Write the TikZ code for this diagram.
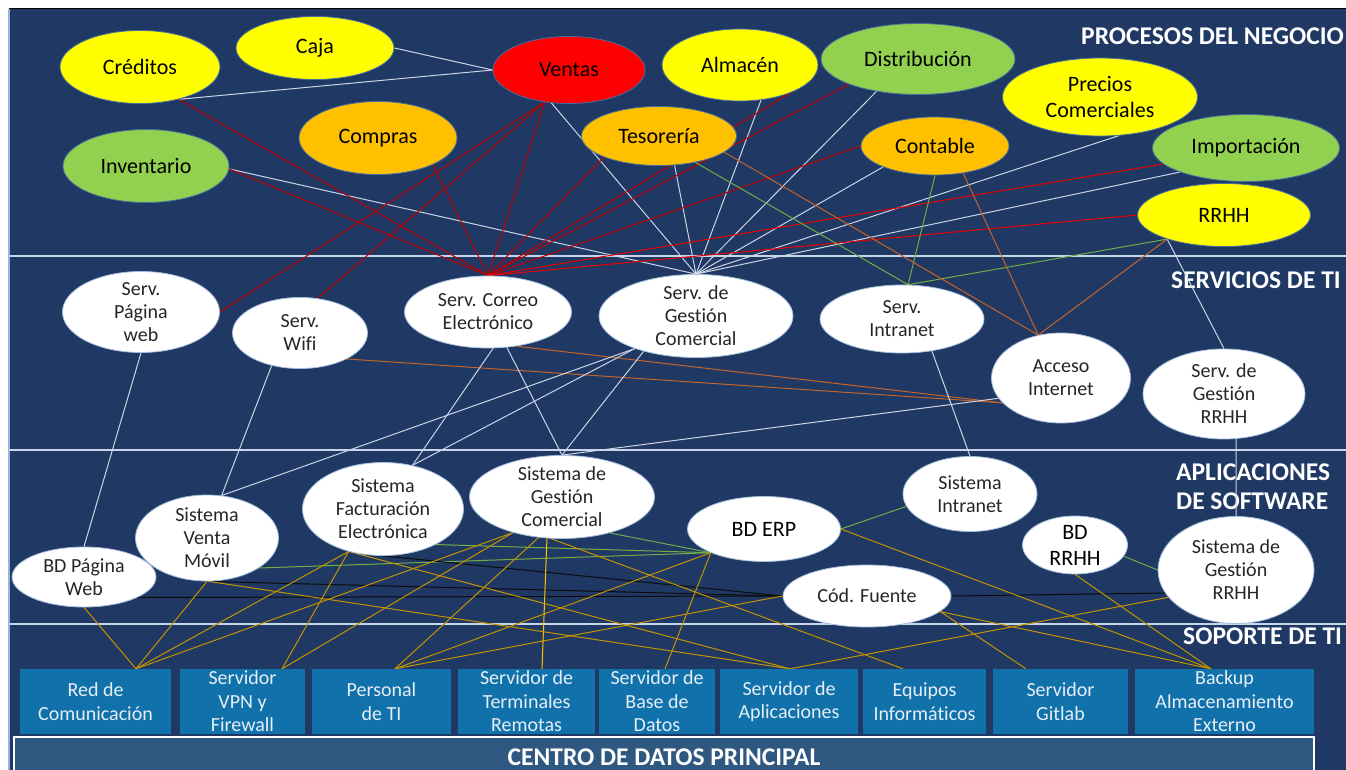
\documentclass[tikz,border=0pt]{standalone}
\usepackage{fontspec}
\setmainfont{Carlito}[Ligatures=NoCommon]
\usetikzlibrary{shapes.geometric}
\pgfdeclarelayer{back}
\pgfdeclarelayer{edges}
\pgfsetlayers{back,edges,main}

\definecolor{navy}{RGB}{32,56,100}
\definecolor{panelline}{RGB}{150,180,220}
\definecolor{sepline}{RGB}{200,214,236}
\definecolor{pyellow}{RGB}{255,255,0}
\definecolor{pred}{RGB}{255,0,0}
\definecolor{porange}{RGB}{255,192,0}
\definecolor{pgreen}{RGB}{146,208,80}
\definecolor{ellborder}{RGB}{70,110,160}
\definecolor{wborder}{RGB}{165,190,220}
\definecolor{lwhite}{RGB}{205,212,228}
\definecolor{lred}{RGB}{195,0,0}
\definecolor{lredb}{RGB}{235,0,0}
\definecolor{lgreen}{RGB}{112,173,71}
\definecolor{lbrown}{RGB}{197,100,40}
\definecolor{lgold}{RGB}{196,148,0}
\definecolor{lyellow}{RGB}{255,192,0}
\definecolor{lblack}{RGB}{12,12,12}
\definecolor{boxblue}{RGB}{17,113,170}
\definecolor{boxtext}{RGB}{230,238,246}
\definecolor{cdpfill}{RGB}{46,88,128}
\definecolor{darktext}{RGB}{38,38,38}

\begin{document}
\begin{tikzpicture}[x=1pt,y=-1pt,
  ellnode/.style={ellipse, inner sep=0pt, line width=0.8pt},
  proc/.style={ellnode, fill=#1, draw=ellborder},
  serv/.style={ellnode, fill=white, draw=wborder},
  ptxt/.style={align=center, inner sep=0pt, text=black, font=\fontsize{22}{26}\selectfont},
  stxt/.style={align=center, inner sep=0pt, text=darktext, font=\fontsize{20}{23}\selectfont},
  btxt/.style={align=center, inner sep=0pt, text=black, font=\fontsize{22}{26}\selectfont},
  supbox/.style={rectangle, fill=boxblue, inner sep=0pt, minimum height=65},
  suptxt/.style={align=center, inner sep=0pt, text=boxtext, font=\fontsize{20}{23.5}\selectfont},
  layertitle/.style={anchor=west, align=left, inner sep=0pt, text=white, font=\bfseries\fontsize{25.5}{29.5}\selectfont},
  wl/.style={draw=lwhite, line width=1pt},
  rl/.style={draw=lred, line width=1pt},
  rlb/.style={draw=lredb, line width=1pt},
  gl/.style={draw=lgreen, line width=1pt},
  bl/.style={draw=lbrown, line width=1pt},
  kl/.style={draw=lblack, line width=1pt},
  yl/.style={draw=lgold, line width=1pt},
  yb/.style={draw=lyellow, line width=1pt}
]
\useasboundingbox (0,0) rectangle (1346,770);

% ---------- background panel, layer separators and titles ----------
\begin{pgfonlayer}{back}
  \fill[white] (0,0) rectangle (1346,770);
  \fill[navy] (9,9) rectangle (1346,770);
  \draw[black, line width=1pt] (9,9) -- (1346,9);
  \draw[panelline, line width=1.2pt] (9,9) -- (9,770);
  \foreach \yy in {256,450,624}
    \draw[sepline, line width=2.4pt] (9,\yy) -- (1346,\yy);
  \node[layertitle] (t-proc) at (1081,36) {PROCESOS DEL NEGOCIO};
  \node[layertitle] (t-serv) at (1171,280.5) {SERVICIOS DE TI};
  \node[layertitle] (t-apps) at (1176,486.5) {APLICACIONES\\DE SOFTWARE};
  \node[layertitle] (t-sup) at (1183,636.5) {SOPORTE DE TI};
\end{pgfonlayer}

% ---------- business processes ----------
\node[proc=pyellow, minimum width=160, minimum height=73] (cred) at (140,67) {};
\node[ptxt] (cred-t) at (cred) {Créditos};
\node[proc=pyellow, minimum width=158, minimum height=63] (caja) at (315,48) {};
\node[ptxt] (caja-t) at (caja) {Caja};
\node[proc=pred, minimum width=152, minimum height=67] (ventas) at (569,70) {};
\node[ptxt] (ventas-t) at (ventas) {Ventas};
\node[proc=pyellow, minimum width=156, minimum height=72] (almacen) at (740,65) {};
\node[ptxt] (almacen-t) at (almacen) {Almacén};
\node[proc=pgreen, minimum width=194, minimum height=71] (distrib) at (918,59) {};
\node[ptxt] (distrib-t) at (distrib) {Distribución};
\node[proc=porange, minimum width=155, minimum height=59] (teso) at (659,136) {};
\node[ptxt] (teso-t) at (teso) {Tesorería};
\node[proc=porange, minimum width=158, minimum height=73] (compras) at (378,138) {};
\node[ptxt] (compras-t) at (compras) {Compras};
\node[proc=pgreen, minimum width=166, minimum height=73] (invent) at (146,166) {};
\node[ptxt] (invent-t) at (invent) {Inventario};
\node[proc=porange, minimum width=148, minimum height=58] (contable) at (935,146) {};
\node[ptxt] (contable-t) at (contable) {Contable};
\node[proc=pyellow, minimum width=195, minimum height=78] (precios) at (1100,97) {};
\node[ptxt] (precios-t) at (precios) {Precios\\Comerciales};
\node[proc=pgreen, minimum width=187, minimum height=67] (import) at (1246,148) {};
\node[ptxt] (import-t) at (import) {Importación};
\node[proc=pyellow, minimum width=173, minimum height=63] (rrhh) at (1224,215) {};
\node[ptxt] (rrhh-t) at (rrhh) {RRHH};

% ---------- IT services ----------
\node[serv, minimum width=157, minimum height=81] (web) at (141,312) {};
\node[stxt] (web-t) at (web) {Serv.\\Página\\web};
\node[serv, minimum width=135, minimum height=71] (wifi) at (300,333) {};
\node[stxt] (wifi-t) at (wifi) {Serv.\\Wifi};
\node[serv, minimum width=167, minimum height=72] (correo) at (488,312) {};
\node[stxt] (correo-t) at (correo) {Serv. Correo\\Electrónico};
\node[serv, minimum width=194, minimum height=83] (sgcs) at (696,316) {};
\node[stxt] (sgcs-t) at (sgcs) {Serv. de\\Gestión\\Comercial};
\node[serv, minimum width=164, minimum height=68] (intra) at (902,319) {};
\node[stxt] (intra-t) at (intra) {Serv.\\Intranet};
\node[serv, minimum width=139, minimum height=90] (acceso) at (1061,378) {};
\node[stxt] (acceso-t) at (acceso) {Acceso\\Internet};
\node[serv, minimum width=162, minimum height=90] (srrhh) at (1224,394) {};
\node[stxt] (srrhh-t) at (srrhh) {Serv. de\\Gestión\\RRHH};

% ---------- software applications ----------
\node[serv, minimum width=144, minimum height=60] (bdweb) at (84,577) {};
\node[stxt] (bdweb-t) at (bdweb) {BD Página\\Web};
\node[serv, minimum width=143, minimum height=86] (venta) at (207,538) {};
\node[stxt] (venta-t) at (venta) {Sistema\\Venta\\Móvil};
\node[serv, minimum width=161, minimum height=93] (fact) at (383,509) {};
\node[stxt] (fact-t) at (fact) {Sistema\\Facturación\\Electrónica};
\node[serv, minimum width=185, minimum height=83] (sgca) at (562,497) {};
\node[stxt] (sgca-t) at (sgca) {Sistema de\\Gestión\\Comercial};
\node[serv, minimum width=153, minimum height=65] (bderp) at (764,529) {};
\node[btxt] (bderp-t) at (bderp) {BD ERP};
\node[serv, minimum width=168, minimum height=62] (codf) at (867,596) {};
\node[stxt] (codf-t) at (codf) {Cód. Fuente};
\node[serv, minimum width=134, minimum height=75] (sintra) at (970,494) {};
\node[stxt] (sintra-t) at (sintra) {Sistema\\Intranet};
\node[serv, minimum width=105, minimum height=58] (bdrrhh) at (1075,545) {};
\node[btxt] (bdrrhh-t) at (bdrrhh) {BD\\RRHH};
\node[serv, minimum width=156, minimum height=107] (sgrrhh) at (1236,570) {};
\node[stxt] (sgrrhh-t) at (sgrrhh) {Sistema de\\Gestión\\RRHH};

% ---------- IT support ----------
\node[supbox, minimum width=151] (red) at (95.5,701.5) {};
\node[suptxt] (red-t) at (red) {Red de\\Comunicación};
\node[supbox, minimum width=125] (vpn) at (242.5,701.5) {};
\node[suptxt] (vpn-t) at (vpn) {Servidor\\VPN y\\Firewall};
\node[supbox, minimum width=139] (pers) at (381.5,701.5) {};
\node[suptxt] (pers-t) at (pers) {Personal\\de TI};
\node[supbox, minimum width=137] (term) at (526.5,701.5) {};
\node[suptxt] (term-t) at (term) {Servidor de\\Terminales\\Remotas};
\node[supbox, minimum width=116] (bdat) at (657,701.5) {};
\node[suptxt] (bdat-t) at (bdat) {Servidor de\\Base de\\Datos};
\node[supbox, minimum width=138] (apl) at (789,701.5) {};
\node[suptxt] (apl-t) at (apl) {Servidor de\\Aplicaciones};
\node[supbox, minimum width=123] (equip) at (924.5,701.5) {};
\node[suptxt] (equip-t) at (equip) {Equipos\\Informáticos};
\node[supbox, minimum width=135] (git) at (1060.5,701.5) {};
\node[suptxt] (git-t) at (git) {Servidor\\Gitlab};
\node[supbox, minimum width=179] (backup) at (1224.5,701.5) {};
\node[suptxt] (backup-t) at (backup) {Backup\\Almacenamiento\\Externo};

\node[rectangle, fill=cdpfill, draw=white, line width=2pt, minimum width=1300, minimum height=40,
      inner sep=0pt, text=white, font=\bfseries\fontsize{25.5}{29}\selectfont] (cdp) at (664,757)
      {CENTRO DE DATOS PRINCIPAL};

% attachment points on top of the support boxes
\coordinate (red-in) at ([xshift=40.5]red.north);
\coordinate (vpn-in) at ([xshift=39.5]vpn.north);
\coordinate (pers-in) at ([xshift=13.5]pers.north);
\coordinate (term-in) at ([xshift=15.5]term.north);
\coordinate (bdat-in) at ([xshift=8]bdat.north);
\coordinate (apl-in) at ([xshift=1]apl.north);
\coordinate (equip-in) at ([xshift=-21.5]equip.north);
\coordinate (git-in) at ([xshift=-34.5]git.north);
\coordinate (backup-in) at ([xshift=-13.5]backup.north);

% ---------- connectors ----------
\begin{pgfonlayer}{edges}
  % processes -> commercial management service
  \foreach \a in {ventas.242, invent.-2, teso.-62, almacen.-59, distrib.218, contable.202, precios.-64, import.200}
    \draw[wl] (\a) -- (sgcs.north);
  \draw[wl] (caja.east) -- (ventas.west);
  \draw[wl] (cred.-40) -- (ventas.west);
  \draw[wl] (rrhh.203) -- (srrhh.north);

  % processes -> e-mail service
  \foreach \a in {cred.-40, invent.-2, ventas.233, compras.-26, teso.201, almacen.-29, distrib.200, contable.west}
    \draw[rl] (\a) -- (correo.north);
  \draw[rlb] (import.191) -- (correo.north);
  \draw[rlb] (rrhh.west) -- (correo.north);
  \draw[rl] (ventas.233) -- (web.east);
  \draw[rl] (ventas.233) -- (wifi.63);

  % processes -> intranet service
  \foreach \a in {teso.-36, contable.south, rrhh.203}
    \draw[gl] (\a) -- (intra.80);

  % internet access
  \foreach \a in {teso.-14, contable.-44, rrhh.203}
    \draw[bl] (\a) -- (acceso.118);
  \draw[bl] (wifi.-29) -- (acceso.203);
  \draw[bl] (correo.-50) -- (acceso.203);

  % services -> applications
  \draw[wl] (web.south) -- (bdweb.north);
  \draw[wl] (wifi.229) -- (venta.71);
  \draw[wl] (correo.-82) -- (fact.56);
  \draw[wl] (correo.-62) -- (sgca.north);
  \draw[wl] (sgcs.208) -- (venta.71);
  \draw[wl] (sgcs.208) -- (fact.56);
  \draw[wl] (sgcs.214) -- (sgca.north);
  \draw[wl] (sgca.north) -- (acceso.198);
  \draw[wl] (intra.-47) -- (sintra.north);
  \draw[wl] (srrhh.-75) -- (sgrrhh.north);

  % databases
  \draw[gl] (sgca.-37) -- (bderp.204);
  \draw[gl] (fact.-34) -- (bderp.204);
  \draw[gl] (venta.-30) -- (bderp.204);
  \draw[gl] (bderp.east) -- (sintra.191);
  \draw[gl] (bdrrhh.-13) -- (sgrrhh.west);

  % source code repository
  \draw[kl] (fact.south) -- (codf.west);
  \draw[kl] (venta.south) -- (codf.west);
  \draw[kl] (bdweb.-21) -- (codf.west);
  \draw[kl] (codf.east) -- (sgrrhh.198);

  % applications -> IT support
  \draw[yl] (bdweb.south) -- (red-in);
  \draw[yl] (venta.south) -- (red-in);
  \draw[yl] (fact.231) -- (red-in);
  \draw[yl] (sgca.216) -- (red-in);
  \draw[yl] (fact.231) -- (vpn-in);
  \draw[yl] (sgca.216) -- (vpn-in);
  \draw[yl] (sgca.240) -- (pers-in);
  \draw[yl] (bderp.204) -- (pers-in);
  \draw[yl] (codf.west) -- (pers-in);
  \draw[yb] (sgca.250) -- (term-in);
  \draw[yl] (bderp.204) -- (bdat-in);
  \draw[yl] (venta.-88) -- (apl-in);
  \draw[yl] (fact.231) -- (apl-in);
  \draw[yl] (sgrrhh.202) -- (apl-in);
  \draw[yl] (sgca.255) -- (equip-in);
  \draw[yl] (codf.-12) -- (git-in);
  \draw[yl] (codf.-12) -- (backup-in);
  \draw[yl] (bderp.east) -- (backup-in);
  \draw[yl] (bdrrhh.south) -- (backup-in);
\end{pgfonlayer}
\end{tikzpicture}
\end{document}
